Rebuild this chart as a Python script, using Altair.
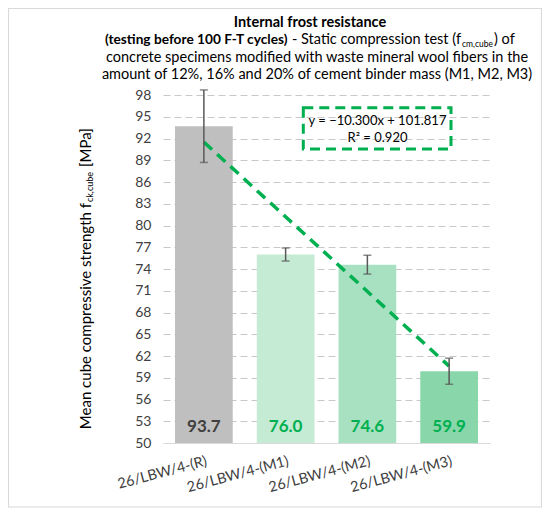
import altair as alt
import pandas as pd

# ---- data ----
categories = ["26/LBW/4-(R)", "26/LBW/4-(M1)", "26/LBW/4-(M2)", "26/LBW/4-(M3)"]
means = [93.7, 76.0, 74.6, 59.9]
err_low = [88.7, 75.1, 73.3, 58.1]
err_high = [98.7, 76.9, 75.9, 61.7]
bar_colors = ["#bfbfbf", "#c5ebd4", "#a7e1c1", "#8ad6ab"]
label_colors = ["#404040", "#00b050", "#00b050", "#00b050"]
trend_x = ["26/LBW/4-(R)", "26/LBW/4-(M3)"]
trend_y = [91.5, 60.6]
y_ticks = [50, 53, 56, 59, 62, 65, 68, 71, 74, 77, 80, 83, 86, 89, 92, 95, 98]
label_texts = ["93.7", "76.0", "74.6", "59.9"]
axis_min = 50

FONT = "Lato"
GREEN = "#00b050"

df = pd.DataFrame({
    "cat": categories, "mean": means, "lo": err_low, "hi": err_high,
    "bar_color": bar_colors, "label_color": label_colors, "label": label_texts,
})
trend = pd.DataFrame({"cat": trend_x, "val": trend_y})

xenc = alt.X("cat:N", sort=categories,
             scale=alt.Scale(paddingInner=0.294, paddingOuter=0.147),
             axis=alt.Axis(title=None, labelAngle=-15, labelAlign="right",
                           labelBaseline="top", labelPadding=11, labelOffset=1,
                           labelFont=FONT, labelFontSize=14.5, labelColor="#404040",
                           ticks=False, domain=True, domainColor="#d9d9d9",
                           domainWidth=1.2, grid=False, labelOverlap=False))
yscale = alt.Scale(domain=[50, 98], nice=False, zero=False)
yaxis = alt.Axis(title=None, values=y_ticks, tickCount=17, grid=True, gridDash=[7, 4],
                 gridColor="#c8c8c8", gridWidth=1, domain=False, ticks=False,
                 labelFont=FONT, labelFontSize=14, labelColor="#404040",
                 labelPadding=12, labelOverlap=False, labelFlush=False)

base = alt.Chart(df)

bars = base.mark_bar().encode(
    x=xenc,
    y=alt.Y("mean:Q", scale=yscale, axis=yaxis),
    y2=alt.datum(axis_min),
    color=alt.Color("bar_color:N", scale=None),
)

err_rule = base.mark_rule(color="#595959", strokeWidth=1.5).encode(
    x=alt.X("cat:N", sort=categories), y="lo:Q", y2="hi:Q")
cap_hi = base.mark_tick(color="#595959", thickness=1.5, size=8).encode(
    x=alt.X("cat:N", sort=categories), y="hi:Q")
cap_lo = base.mark_tick(color="#595959", thickness=1.5, size=8).encode(
    x=alt.X("cat:N", sort=categories), y="lo:Q")

val_labels = base.mark_text(font=FONT, fontSize=17, fontWeight="bold",
                            baseline="middle").encode(
    x=alt.X("cat:N", sort=categories),
    y=alt.value(332),
    text="label:N",
    color=alt.Color("label_color:N", scale=None),
)

trend_line = alt.Chart(trend).mark_line(color=GREEN, strokeWidth=3.5,
                                        strokeDash=[11, 7]).encode(
    x=alt.X("cat:N", sort=categories), y="val:Q")

one = alt.Data(values=[{"k": 1}])


def txt(text, x, y, size=14.5, weight="normal", align="center", color="#000000",
        angle=0, baseline="middle"):
    kw = dict(font=FONT, fontSize=size, fontWeight=weight, align=align,
              color=color, baseline=baseline)
    if angle:
        kw["angle"] = angle
    return alt.Chart(one).mark_text(**kw).encode(
        x=alt.value(x), y=alt.value(y), text=alt.value(text))


border = alt.Chart(one).mark_rect(fillOpacity=0, fill="white", stroke="#d9d9d9",
                                  strokeWidth=1.2).encode(
    x=alt.value(-154.5), x2=alt.value(378.5), y=alt.value(-86.5), y2=alt.value(412))

eq_box = alt.Chart(one).mark_rect(fillOpacity=0, fill="white", stroke=GREEN,
                                  strokeWidth=3, strokeDash=[10, 6]).encode(
    x=alt.value(140.3), x2=alt.value(288), y=alt.value(12.7), y2=alt.value(54))

title_layers = [
    txt("Internal frost resistance", 147, -72.3, weight="bold"),
    txt("(testing before 100 F-T cycles)", -58, -55, size=13.7, weight="bold", align="left"),
    txt(" - Static compression test (f", 298, -55, align="right"),
    txt("cm,cube", 299, -51.5, size=8.5, align="left"),
    txt(") of", 331, -55, align="left"),
    txt("concrete specimens modified with waste mineral wool fibers in the", 154, -37.5),
    txt("amount of 12%, 16% and 20% of cement binder mass (M1, M2, M3)", 154, -20),
]

ytitle_layers = [
    txt("Mean cube compressive strength f", -77, 108, size=15, align="right", angle=270),
    txt("ck,cube", -73, 107, size=9, align="left", angle=270),
    txt("[MPa]", -77, 72, size=15, align="left", angle=270),
]

eq_layers = [
    txt("y = \u221210.300x + 101.817", 214.5, 25.7, size=13),
    txt("R\u00b2 = 0.920", 214.5, 42.7, size=13),
]

chart = alt.layer(
    border, bars, trend_line, err_rule, cap_hi, cap_lo, val_labels, eq_box,
    *eq_layers, *title_layers, *ytitle_layers,
).properties(
    width=327, height=348,
    padding={"left": 155, "top": 87, "right": 52, "bottom": 66},
    autosize=alt.AutoSizeParams(type="none"),
    background="white",
).configure_view(stroke=None)

chart.save("out.html", embed_options={"renderer": "svg", "actions": False})
